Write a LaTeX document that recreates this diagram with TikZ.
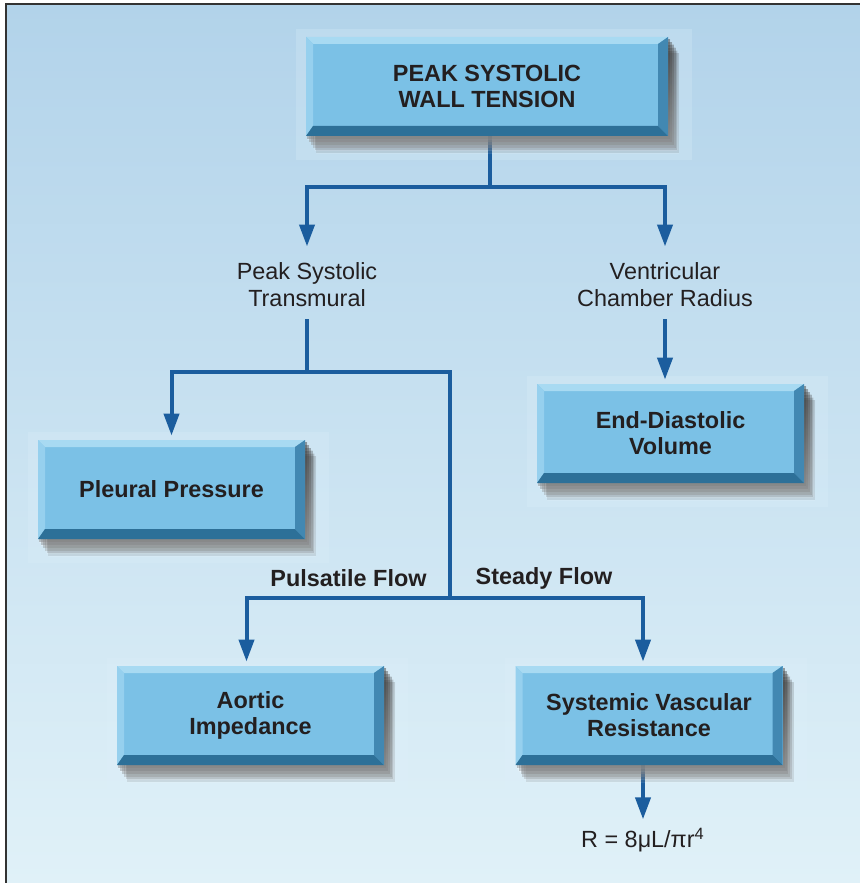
\documentclass[tikz,border=0pt]{standalone}
\usepackage{fontspec}
\setmainfont{Liberation Sans}
\usetikzlibrary{positioning,calc,arrows.meta,backgrounds}

\definecolor{bgtop}{RGB}{178,211,234}
\definecolor{bgbot}{RGB}{224,241,248}
\definecolor{linkblue}{RGB}{27,93,158}
\definecolor{boxblue}{RGB}{123,193,230}
\definecolor{bevtop}{RGB}{168,218,242}
\definecolor{bevleft}{RGB}{150,208,238}
\definecolor{bevright}{RGB}{66,136,178}
\definecolor{bevbottom}{RGB}{45,112,152}
\definecolor{ink}{RGB}{35,31,32}
\definecolor{glow}{RGB}{222,240,250}
\definecolor{shade}{RGB}{20,35,50}

\begin{document}
\begin{tikzpicture}[
    x=0.5pt, y=-0.5pt,
    txt/.style={font=\fontsize{11.7}{13.5}\selectfont, text=ink, align=center},
    box/.style={txt, font=\fontsize{11.7}{13}\selectfont\bfseries, fill=boxblue, inner sep=0pt,
        minimum width=133.5pt, minimum height=49.5pt,
        path picture={
            \coordinate (p-nw) at (path picture bounding box.north west);
            \coordinate (p-ne) at (path picture bounding box.north east);
            \coordinate (p-sw) at (path picture bounding box.south west);
            \coordinate (p-se) at (path picture bounding box.south east);
            % bevelled rim
            \fill[bevtop] (p-nw) -- (p-ne) -- ($(p-ne)+(-5pt,-3.5pt)$) -- ($(p-nw)+(3.5pt,-3.5pt)$) -- cycle;
            \fill[bevleft] (p-nw) -- ($(p-nw)+(3.5pt,-3.5pt)$) -- ($(p-sw)+(3.5pt,5pt)$) -- (p-sw) -- cycle;
            \fill[bevright] (p-ne) -- (p-se) -- ($(p-se)+(-5pt,5pt)$) -- ($(p-ne)+(-5pt,-3.5pt)$) -- cycle;
            \fill[bevbottom] (p-sw) -- ($(p-sw)+(3.5pt,5pt)$) -- ($(p-se)+(-5pt,5pt)$) -- (p-se) -- cycle;
        }},
    halo/.style={fill=glow, opacity=0.25},
    lbl/.style={txt, inner sep=6pt},
    flow/.style={txt, font=\fontsize{11.7}{13.5}\selectfont\bfseries, inner sep=0pt},
    link/.style={draw=linkblue, line width=2pt},
    arr/.style={link, -{Triangle[length=11pt,width=7.5pt]}, shorten >=2pt},
]
\useasboundingbox (0,0) rectangle (860,883);

% ===== Boxes =====
\node[box, minimum width=181pt] (tension) at (487,86.5) {PEAK SYSTOLIC\\WALL TENSION};
\node[box] (pleural) at (171.5,489.5) {Pleural Pressure};
\node[box] (edv) at (670.5,433.5) {End-Diastolic\\Volume};
\node[box] (aortic) at (250.5,715.5) {Aortic\\Impedance};
\node[box] (svr) at (649,715.5) {Systemic Vascular\\Resistance};

% ===== Plain labels =====
\node[lbl] (transmural) at (307,285) {Peak Systolic\\Transmural};
\node[lbl] (radius) at (665,285) {Ventricular\\Chamber Radius};
\node[flow] (pulsatile) at (348.5,578) {Pulsatile Flow};
\node[flow] (steady) at (544,578) {Steady Flow};
\node[txt, inner sep=2pt] (poiseuille) at (643,840) {R = 8μL/πr\textsuperscript{4}};

% Branch points
\coordinate (j1) at (490,187);
\coordinate (j2) at (307,372);
\coordinate (j3) at (450,598);

% Frame
\draw[line width=1.3pt, black!80] (860,4) -- (6,4) -- (6,883);

\begin{pgfonlayer}{background}
% Backdrop with faint glow behind each box
\shade[top color=bgtop, bottom color=bgbot] (6,4) rectangle (860,883);
\foreach \b in {tension,pleural,edv,aortic,svr}
    \fill[halo] ($(\b.north west)+(-5pt,4pt)$) rectangle ($(\b.south east)+(12pt,-12pt)$);

% ===== Connectors =====
\draw[link] ([xshift=1.5pt]tension.south) -- (j1);
\draw[arr] (j1) -| (transmural.north);
\draw[arr] (j1) -| (radius.north);
\draw[arr] (radius.south) -- (radius.south |- edv.north);
\draw[link] (transmural.south) -- (j2);
\draw[arr] (j2) -| (pleural.north);
\draw[link] (j2) -| (j3);
\draw[arr] (j3) -| ([xshift=-2pt]aortic.north);
\draw[arr] (j3) -| ([xshift=-3pt]svr.north);
\draw[arr] ([xshift=-3pt]svr.south) -- (poiseuille.north);

% Soft drop shadows, stacked layers
\foreach \b in {tension,pleural,edv,aortic,svr}
    \foreach \s/\o in {1/0.30, 2/0.25, 3/0.22, 4/0.18, 5/0.14, 6/0.10}
        \fill[shade, opacity=\o] ($(\b.north west)+(\s*0.9pt,-\s*1.4pt)$) rectangle ($(\b.south east)+(\s*0.9pt,-\s*1.4pt)$);
\end{pgfonlayer}

\end{tikzpicture}
\end{document}
